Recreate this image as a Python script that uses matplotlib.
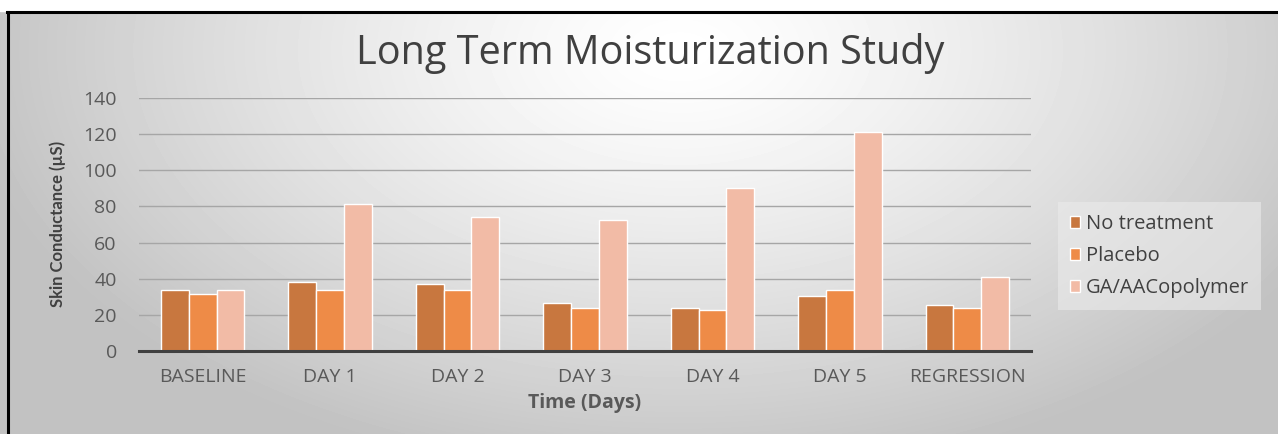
import numpy as np
import matplotlib
matplotlib.use("Agg")
import matplotlib.pyplot as plt

# data
categories = ["BASELINE", "DAY 1", "DAY 2", "DAY 3", "DAY 4", "DAY 5", "REGRESSION"]
no_treatment = [34, 38, 37, 26.5, 24, 30.5, 25.5]
placebo = [31.5, 34, 34, 24, 22.5, 34, 24]
copolymer = [34, 81.5, 74, 72.5, 90, 121, 41]
series_names = ["No treatment", "Placebo", "GA/AACopolymer"]
colors = ["#C8773F", "#EE8B47", "#F2BBA6"]
yticks = [0, 20, 40, 60, 80, 100, 120, 140]

W, H = 1278, 434
fig = plt.figure(figsize=(W / 100, H / 100), dpi=100)

# radial grey background like the Excel chart area
bg = fig.add_axes([0, 0, 1, 1])
yy, xx = np.mgrid[0:H, 0:W]
d = np.sqrt(((xx - 680) / 720.0) ** 2 + ((yy - 50) / 430.0) ** 2)
shade = 1.0 - 0.24 * np.clip(d, 0, 1) ** 1.3
bg.imshow(shade, cmap="gray", vmin=0, vmax=1, extent=[0, W, H, 0], aspect="auto")
bg.fill_between([0, W], 0, 11, color="white")
bg.plot([7, W], [12, 12], color="black", lw=2.2)
bg.plot([8, 8], [12, H], color="black", lw=2.2)
bg.set_xlim(0, W)
bg.set_ylim(H, 0)
bg.axis("off")

ax = fig.add_axes([139 / W, 1 - 351 / H, (1031 - 139) / W, (351 - 98) / H])
ax.patch.set_alpha(0)
x = np.arange(len(categories))
bw = 0.218
for i, (vals, name, c) in enumerate(zip([no_treatment, placebo, copolymer], series_names, colors)):
    ax.bar(x + (i - 1) * bw, vals, width=bw, color=c, edgecolor="white", linewidth=1.0, label=name, zorder=3)

ax.set_xlim(-0.5, len(categories) - 0.5)
ax.set_ylim(0, 140)
ax.set_yticks(yticks)
ax.set_xticks(x)
ax.set_xticklabels(categories)
ax.yaxis.grid(True, color="#a6a6a6", lw=1.0, zorder=0)
ax.set_axisbelow(True)
for s in ["top", "right", "left"]:
    ax.spines[s].set_visible(False)
ax.spines["bottom"].set_color("#404040")
ax.spines["bottom"].set_linewidth(2.2)
ax.spines["bottom"].set_zorder(4)
ax.tick_params(length=0, labelsize=14, labelcolor="#595959")
for lab in ax.get_xticklabels() + ax.get_yticklabels():
    lab.set_family("Open Sans")
ax.tick_params(axis="x", pad=12)
ax.tick_params(axis="y", pad=16)

ax.set_xlabel("Time (Days)", family="Open Sans", fontweight="bold", fontsize=14, color="#595959", labelpad=5)
fig.text(58 / W, 1 - 224 / H, "Skin Conductance (µS)", rotation=90, ha="center", va="center",
         family="Lato", fontweight="bold", fontsize=12, color="#404040")
fig.text(650 / W, 1 - 53 / H, "Long Term Moisturization Study", ha="center", va="center",
         family="Open Sans", fontsize=28.5, color="#404040")

leg = ax.legend(loc="center left", bbox_to_anchor=(1058 / W, 1 - 256 / H), bbox_transform=fig.transFigure,
                frameon=True, handlelength=0.5, handleheight=0.5, handletextpad=0.3,
                labelspacing=0.6, borderpad=0.6, borderaxespad=0,
                prop={"family": "Open Sans", "size": 14.5})
leg.get_frame().set_facecolor("#ebebeb")
leg.get_frame().set_alpha(0.6)
leg.get_frame().set_edgecolor("none")
leg.get_frame().set_boxstyle("square", pad=0)
for t in leg.get_texts():
    t.set_color("#404040")

fig.savefig("out.png", dpi=100)
